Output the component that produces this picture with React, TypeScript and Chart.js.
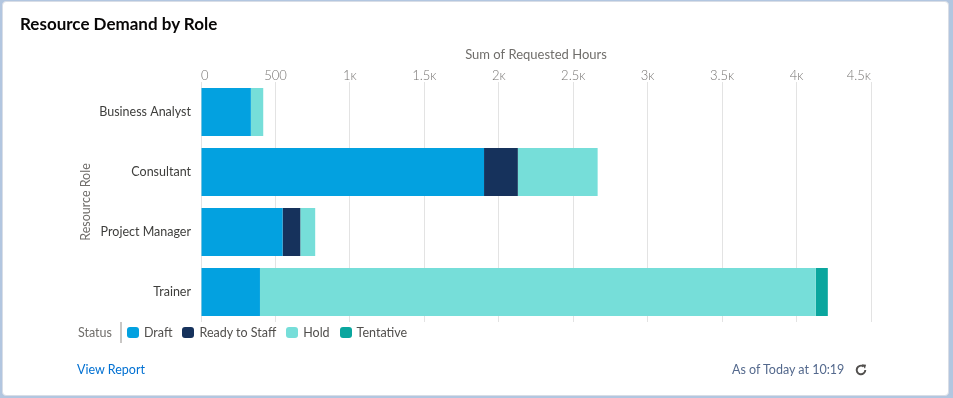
import React, { useEffect, useRef } from 'react';
import { Chart, registerables } from 'chart.js';

Chart.register(...registerables);

const categories = ['Business Analyst', 'Consultant', 'Project Manager', 'Trainer'];
const draft = [335, 1901, 548, 396];
const readyToStaff = [0, 227, 119, 0];
const hold = [83, 536, 100, 3733];
const tentative = [0, 0, 0, 81];

const seriesNames = ['Draft', 'Ready to Staff', 'Hold', 'Tentative'];
const seriesColors = ['#03a1e0', '#16325c', '#76ded9', '#0aa69e'];

const xMin = 0;
const xMax = 4500;
const xStep = 500;

const FONT = 'Lato, "Open Sans", sans-serif';

function fmtTick(v: number): string {
  if (v < 1000) return String(v);
  return String(v / 1000) + 'ᴋ';
}

export default function App() {
  const ref = useRef<HTMLCanvasElement | null>(null);

  useEffect(() => {
    document.body.style.margin = '0';
    const canvas = ref.current;
    if (!canvas) return;
    const series = [draft, readyToStaff, hold, tentative];
    const chart = new Chart(canvas, {
      type: 'bar',
      data: {
        labels: categories,
        datasets: series.map((d, i) => ({
          label: seriesNames[i],
          data: d,
          backgroundColor: seriesColors[i],
          borderWidth: 0,
          categoryPercentage: 1,
          barPercentage: 0.8,
        })),
      },
      options: {
        indexAxis: 'y',
        responsive: false,
        animation: false,
        layout: { padding: { left: 70, right: 82, top: 40, bottom: 76 } },
        plugins: {
          legend: { display: false },
          tooltip: { enabled: false },
        },
        scales: {
          x: {
            position: 'top',
            stacked: true,
            min: xMin,
            max: xMax,
            afterFit: (s: any) => { s.height = 42; },
            ticks: {
              stepSize: xStep,
              color: '#747270',
              padding: -2,
              align: 'inner',
              font: { family: FONT, size: 13, weight: '300' as any },
              callback: (v: any) => fmtTick(Number(v)),
              maxRotation: 0,
            },
            grid: { color: '#e3e3e3', drawTicks: false },
            border: { display: false },
            title: {
              display: true,
              text: 'Sum of Requested Hours',
              color: '#706e6b',
              font: { family: FONT, size: 13 },
              padding: { top: 7, bottom: 0 },
            },
          },
          y: {
            stacked: true,
            afterFit: (s: any) => { s.width = 131; },
            ticks: {
              color: '#3e3e3c',
              padding: 10,
              font: { family: FONT, size: 12.5 },
            },
            grid: { display: false, drawTicks: false },
            border: { display: false },
            title: {
              display: true,
              text: 'Resource Role',
              color: '#706e6b',
              font: { family: FONT, size: 12.5 },
              padding: { top: 8, bottom: 0 },
            },
          },
        },
      },
    } as any);
    return () => chart.destroy();
  }, []);

  const legendItem = (name: string, color: string, i: number) => (
    <div key={name} style={{ display: 'flex', alignItems: 'center', marginLeft: i === 0 ? 5 : 10 }}>
      <span style={{ width: 12, height: 11, borderRadius: 3, background: color, display: 'inline-block' }} />
      <span style={{ marginLeft: 5, color: '#514f4d', fontSize: 12.5 }}>{name}</span>
    </div>
  );

  return (
    <div style={{ position: 'fixed', left: 0, top: 0, width: 953, height: 398, background: '#b2c6e0', fontFamily: FONT, overflow: 'hidden' }}>
      <div style={{ position: 'absolute', left: 2, top: 1, width: 945, height: 393, background: '#fff', border: '1px solid #d8dde6', borderRadius: 4 }} />
      <canvas ref={ref} width={953} height={398} style={{ position: 'absolute', left: 0, top: 0, width: 953, height: 398 }} />
      <div style={{ position: 'absolute', left: 20, top: 13, fontSize: 17, fontWeight: 700, color: '#080707', whiteSpace: 'nowrap' }}>
        Resource Demand by Role
      </div>
      <div style={{ position: 'absolute', left: 78, top: 322, height: 21, display: 'flex', alignItems: 'center', whiteSpace: 'nowrap' }}>
        <span style={{ color: '#706e6b', fontSize: 12.5, paddingRight: 8, height: 21, lineHeight: '21px', borderRight: '2px solid #c9c7c5' }}>Status</span>
        {seriesNames.map((n, i) => legendItem(n, seriesColors[i], i))}
      </div>
      <div style={{ position: 'absolute', left: 77, top: 362, fontSize: 12.5, color: '#0070d2', whiteSpace: 'nowrap' }}>View Report</div>
      <div style={{ position: 'absolute', left: 732, top: 362, fontSize: 12.5, color: '#54698d', whiteSpace: 'nowrap', display: 'flex', alignItems: 'center' }}>
        <span>As of Today at 10:19</span>
        <svg width="14" height="14" viewBox="0 0 13 13" style={{ marginLeft: 10 }}>
          <path d="M10.5 6.5 A4 4 0 1 1 8.8 3.2" fill="none" stroke="#514f4d" strokeWidth="1.8" />
          <path d="M7.2 1.2 L11.2 1.6 L10.2 5.3 Z" fill="#514f4d" />
        </svg>
      </div>
    </div>
  );
}
